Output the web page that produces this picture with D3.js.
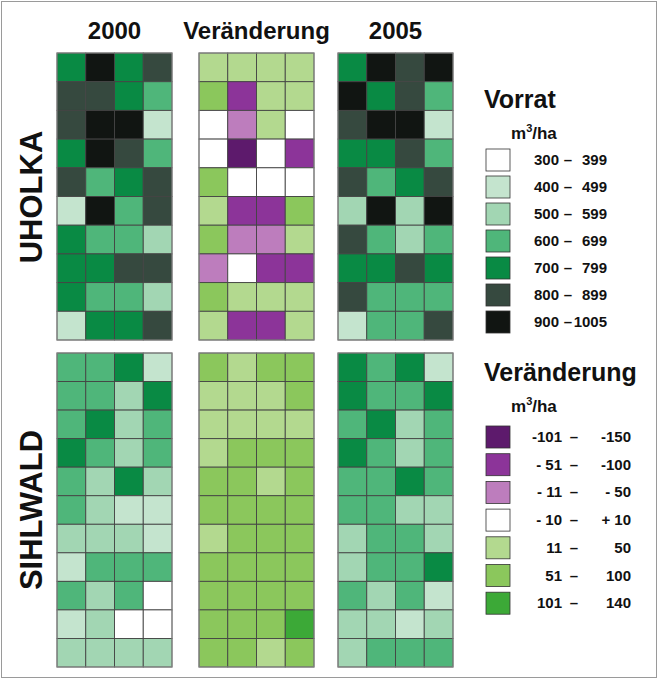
<!DOCTYPE html>
<html><head><meta charset="utf-8">
<script src="https://cdn.jsdelivr.net/npm/d3@7"></script>
<style>
html,body{margin:0;padding:0;background:#fff;}
svg{display:block;font-family:"Liberation Sans",Arial,sans-serif;}
</style></head>
<body><svg id="chart" width="659" height="680"></svg>
<script>
// ---- DATA ----
const panelTitles = ["2000", "Veränderung", "2005"];
const regionNames = ["UHOLKA", "SIHLWALD"];

// Growing stock (m³/ha), estimated class values read from the map
const uholka2000 = [
  [750,950,750,850],[850,850,750,650],[850,950,950,450],[750,950,850,650],[850,650,750,850],
  [450,950,650,850],[750,650,650,550],[750,750,850,850],[750,650,650,550],[450,750,750,850]];
const uholkaChange = [
  [30,30,30,30],[75,-75,30,30],[0,-30,30,0],[0,-125,0,-75],[75,0,0,0],
  [30,-75,-75,75],[75,-30,-30,30],[-30,0,-75,-75],[75,30,30,30],[30,-75,-75,30]];
const uholka2005 = [
  [750,950,850,950],[950,750,850,650],[850,950,950,450],[750,750,850,650],[850,650,750,850],
  [550,950,550,950],[850,650,550,650],[750,750,850,750],[850,650,650,650],[450,650,650,850]];

const sihl2000 = [
  [650,650,750,450],[650,650,550,750],[650,750,550,650],[750,650,550,650],[650,550,750,550],
  [650,550,450,450],[550,550,550,450],[450,650,650,650],[650,550,650,350],[450,550,350,350],
  [550,550,550,550]];
const sihlChange = [
  [75,30,75,75],[30,30,30,75],[30,30,30,30],[30,75,75,75],[75,75,30,75],
  [75,75,75,75],[30,75,75,75],[75,75,75,75],[75,75,75,75],[75,75,75,120],
  [75,75,30,75]];
const sihl2005 = [
  [750,650,750,450],[750,650,650,750],[650,750,550,650],[750,650,550,650],[650,650,750,650],
  [650,650,550,550],[550,650,650,550],[550,650,650,750],[650,550,650,450],[550,550,450,550],
  [550,650,650,650]];

const stockLabels = [["300","399"],["400","499"],["500","599"],["600","699"],["700","799"],["800","899"],["900","1005"]];
const stockBreaks = [400,500,600,700,800,900];
const stockColors = ["#ffffff","#c4e4ce","#a2d6b3","#4fb67a","#098a44","#36493f","#111512"];

const changeLabels = [["-101","-150"],["- 51","-100"],["- 11","- 50"],["- 10","+ 10"],["11","50"],["51","100"],["101","140"]];
const changeBreaks = [-100,-50,-10,11,51,101];
const changeColors = ["#5d1a6c","#8c3499","#bd7dbd","#ffffff","#b3d98f","#8bc75c","#3ca937"];

// ---- DRAW ----
const svg = d3.select("#chart");
const stockScale = d3.scaleThreshold().domain(stockBreaks).range(stockColors);
const changeScale = d3.scaleThreshold().domain(changeBreaks).range(changeColors);

svg.append("rect").attr("x",1.5).attr("y",1.5).attr("width",655).attr("height",676)
  .attr("fill","none").attr("stroke","#9a9a9a").attr("stroke-width",1);

const panelXpos = {"2000":57, "Veränderung":199, "2005":338};
const panelW = 115;
const regionY = {"UHOLKA":[53,340], "SIHLWALD":[353,667]};

const grids = {
  "UHOLKA": [uholka2000, uholkaChange, uholka2005],
  "SIHLWALD": [sihl2000, sihlChange, sihl2005]
};

regionNames.forEach(reg => {
  grids[reg].forEach((data, pi) => {
    const title = panelTitles[pi];
    const x0 = panelXpos[title];
    const [y0, y1] = regionY[reg];
    const xs = d3.scaleBand().domain(d3.range(4)).range([x0, x0+panelW]);
    const ys = d3.scaleBand().domain(d3.range(data.length)).range([y0, y1]);
    const color = pi === 1 ? changeScale : stockScale;
    const cells = [];
    data.forEach((row, r) => row.forEach((v, c) => cells.push({r, c, v})));
    const g = svg.append("g");
    g.selectAll("rect").data(cells).join("rect")
      .attr("x", d => xs(d.c)).attr("y", d => ys(d.r))
      .attr("width", xs.bandwidth()).attr("height", ys.bandwidth())
      .attr("fill", d => color(d.v))
      .attr("stroke", "#444").attr("stroke-width", 0.9);
    g.append("rect").attr("x", x0).attr("y", y0).attr("width", panelW).attr("height", y1-y0)
      .attr("fill","none").attr("stroke","#8a8a8a").attr("stroke-width",1);
  });
});

// column headers
panelTitles.forEach(t => {
  svg.append("text").attr("x", panelXpos[t] + panelW/2).attr("y", 39)
    .attr("text-anchor","middle").attr("font-size", 24).attr("font-weight","bold")
    .attr("fill","#111").text(t);
});

// region labels
const regCenters = {"UHOLKA": 197, "SIHLWALD": 510};
regionNames.forEach(reg => {
  svg.append("text")
    .attr("transform", `translate(42,${regCenters[reg]}) rotate(-90)`)
    .attr("text-anchor","middle").attr("font-size", 31).attr("font-weight","bold")
    .attr("fill","#111").text(reg);
});

// legends
function legend(title, y0, labels, colors, firstEnd, dashX, secondEnd, itemStart, step) {
  svg.append("text").attr("x", 484).attr("y", y0).attr("font-size", 25)
    .attr("font-weight","bold").attr("fill","#111").text(title);
  const unit = svg.append("text").attr("x", 511).attr("y", y0 + 31).attr("font-size", 17)
    .attr("font-weight","bold").attr("fill","#111");
  unit.append("tspan").text("m");
  unit.append("tspan").attr("font-size", 11).attr("dy", -7).text("3");
  unit.append("tspan").attr("dy", 7).text("/ha");
  const ys = d3.scaleLinear().domain([0, 1]).range([itemStart, itemStart + step]);
  labels.forEach((lab, i) => {
    const cy = ys(i);
    svg.append("rect").attr("x", 486).attr("y", cy - 11).attr("width", 24).attr("height", 22)
      .attr("fill", colors[i]).attr("stroke", "#333").attr("stroke-width", 0.8);
    svg.append("text").attr("x", firstEnd).attr("y", cy + 5).attr("text-anchor","end")
      .attr("font-size", 15).attr("font-weight","bold").attr("fill","#111").text(lab[0]);
    svg.append("text").attr("x", dashX).attr("y", cy + 5).attr("text-anchor","middle")
      .attr("font-size", 15).attr("font-weight","bold").attr("fill","#111").text("–");
    svg.append("text").attr("x", secondEnd).attr("y", cy + 5).attr("text-anchor","end")
      .attr("font-size", 15).attr("font-weight","bold").attr("fill","#111").text(lab[1]);
  });
}
legend("Vorrat", 108, stockLabels, stockColors, 559, 568, 607, 160, 27);
legend("Veränderung", 381, changeLabels, changeColors, 562, 574, 631, 437, 27.7);
</script></body></html>
